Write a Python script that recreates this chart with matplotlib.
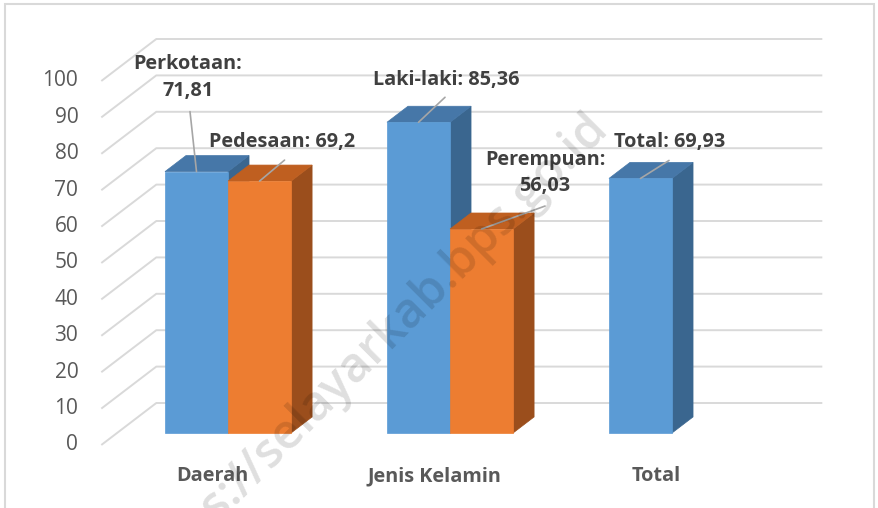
# grafik_3d_kolom.py
# Rekonstruksi grafik kolom 3D (gaya Excel): Daerah, Jenis Kelamin, Total.

import matplotlib.pyplot as plt
from matplotlib.patches import Polygon, Rectangle

# =========================
# 1) DATA
# =========================
kategori = ["Daerah", "Jenis Kelamin", "Total"]
nama_biru = ["Perkotaan", "Laki-laki", "Total"]
nilai_biru = [71.81, 85.36, 69.93]
nama_oranye = ["Pedesaan", "Perempuan", None]
nilai_oranye = [69.2, 56.03, None]
label_biru = ["Perkotaan:\n71,81", "Laki-laki: 85,36", "Total: 69,93"]
label_oranye = ["Pedesaan: 69,2", "Perempuan:\n56,03", None]
yticks = list(range(0, 101, 10))

# =========================
# 2) GEOMETRI (piksel pada gambar 879x508)
# =========================
W_PX, H_PX = 879, 508
X0, PX_KAT = 212.3, 222.0     # piksel kategori 0 di bidang depan, jarak antar kategori
Y0, PX_NILAI = 445.0, 3.64    # piksel nilai 0 di bidang depan, piksel per satuan nilai
DC = 55.0 / PX_KAT            # geser kedalaman penuh (kategori)
DV = 42.0 / PX_NILAI          # geser kedalaman penuh (nilai)
LEBAR = 0.284                 # lebar batang (satuan kategori)
T0, T1 = 0.286, 0.668         # kedalaman depan/belakang batang

BIRU = ("#5B9BD5", "#4677A8", "#3A668F")      # depan, atas, samping
ORANYE = ("#ED7D31", "#BF5F20", "#9B4E1C")
GRID = "#D9D9D9"
TEKS_SUMBU = "#595959"
TEKS_LABEL = "#404040"
LEADER = "#A6A6A6"

plt.rcParams["font.family"] = ["Open Sans", "DejaVu Sans"]


def P(c, v, t):
    """Titik 3D (kategori, nilai, kedalaman) -> koordinat data 2D."""
    return (c + t * DC, v + t * DV)


def gambar_batang(ax, c0, c1, v, warna):
    depan = [P(c0, 0, T0), P(c1, 0, T0), P(c1, v, T0), P(c0, v, T0)]
    atas = [P(c0, v, T0), P(c1, v, T0), P(c1, v, T1), P(c0, v, T1)]
    samping = [P(c1, 0, T0), P(c1, v, T0), P(c1, v, T1), P(c1, 0, T1)]
    for poli, w in ((samping, warna[2]), (atas, warna[1]), (depan, warna[0])):
        ax.add_patch(Polygon(poli, closed=True, facecolor=w, edgecolor=w,
                             lw=0.5, zorder=3))


def label_data(ax, teks, anchor, off_teks, off_garis):
    ax.annotate("", xy=anchor, xytext=off_garis, textcoords="offset pixels",
                arrowprops=dict(arrowstyle="-", color=LEADER, lw=1.2,
                                shrinkA=0, shrinkB=0), zorder=5)
    ax.annotate(teks, xy=anchor, xytext=off_teks, textcoords="offset pixels",
                ha="center", va="center", fontsize=14.3, fontweight="bold",
                color=TEKS_LABEL, linespacing=1.45, zorder=6)


# posisi label relatif terhadap titik atas batang (piksel, ke atas positif)
off_teks_biru = [(-8.5, 94), (27.5, 42), (29.5, 36)]
off_garis_biru = [(-6.5, 60), (26.5, 25), (28.5, 18)]
off_teks_oranye = [(23, 39), (63.5, 56), None]
off_garis_oranye = [(25, 21), (63.5, 23), None]

# =========================
# 3) GAMBAR
# =========================
fig = plt.figure(figsize=(W_PX / 100, H_PX / 100), dpi=100)
ax = fig.add_axes([0, 0, 1, 1])
ax.set_xlim(-X0 / PX_KAT, (W_PX - X0) / PX_KAT)
ax.set_ylim((Y0 - H_PX) / PX_NILAI, Y0 / PX_NILAI)
ax.axis("off")

# garis grid: dinding kiri (miring) + dinding belakang
c_kiri, c_kanan = -0.5, len(kategori) - 0.5
for v in yticks:
    xs, ys = zip(P(c_kiri, v, 0), P(c_kiri, v, 1), P(c_kanan, v, 1))
    ax.plot(xs, ys, color=GRID, lw=1.4, zorder=1, solid_capstyle="butt")
    ax.annotate(str(v), xy=P(c_kiri, v, 0), xytext=(-23, 0),
                textcoords="offset pixels", ha="right", va="center",
                fontsize=15, color=TEKS_SUMBU)

# batang
for i in range(len(kategori)):
    if nilai_biru[i] is not None:
        gambar_batang(ax, i - LEBAR, i, nilai_biru[i], BIRU)
    if nilai_oranye[i] is not None:
        gambar_batang(ax, i, i + LEBAR, nilai_oranye[i], ORANYE)

# label data
for i in range(len(kategori)):
    if nilai_biru[i] is not None:
        anchor = P(i - LEBAR / 2, nilai_biru[i], T0)
        label_data(ax, label_biru[i], anchor, off_teks_biru[i], off_garis_biru[i])
    if nilai_oranye[i] is not None:
        anchor = P(i + LEBAR / 2, nilai_oranye[i], T0)
        label_data(ax, label_oranye[i], anchor, off_teks_oranye[i], off_garis_oranye[i])

# label kategori
for i, nama in enumerate(kategori):
    ax.annotate(nama, xy=P(i, 0, 0), xytext=(0, -31), textcoords="offset pixels",
                ha="center", va="center", fontsize=14.3, fontweight="bold",
                color=TEKS_SUMBU)

# watermark
ax.text((369 - X0) / PX_KAT, (Y0 - 352) / PX_NILAI, "https://selayarkab.bps.go.id",
        rotation=45, rotation_mode="anchor", ha="center", va="center",
        fontsize=35, fontweight="semibold", color="black", alpha=0.13, zorder=10)

# bingkai
fig.patches.append(Rectangle((5 / W_PX, -0.01), (874 - 5) / W_PX, 1 - 4 / H_PX + 0.01,
                             transform=fig.transFigure, fill=False,
                             edgecolor=GRID, lw=1.5))

fig.savefig("out.png", dpi=100)
